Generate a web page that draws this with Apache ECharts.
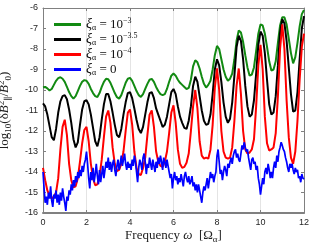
<!DOCTYPE html>
<html><head><meta charset="utf-8">
<script src="https://cdn.jsdelivr.net/npm/echarts@6/dist/echarts.min.js"></script>
<style>html,body{margin:0;padding:0;background:#fff}#c{width:332px;height:244px}</style>
</head><body><div id="c"></div>
<script>
// frequency grids (omega in units of Omega_alpha)
const freq = [0,0.1,0.2,0.3,0.4,0.5,0.6,0.7,0.8,0.9,
1,1.1,1.2,1.3,1.4,1.5,1.6,1.7,1.8,1.9,
2,2.1,2.2,2.3,2.4,2.5,2.6,2.7,2.8,2.9,
3,3.1,3.2,3.3,3.4,3.5,3.6,3.7,3.8,3.9,
4,4.1,4.2,4.3,4.4,4.5,4.6,4.7,4.8,4.9,
5,5.1,5.2,5.3,5.4,5.5,5.6,5.7,5.8,5.9,
6,6.1,6.2,6.3,6.4,6.5,6.6,6.7,6.8,6.9,
7,7.1,7.2,7.3,7.4,7.5,7.6,7.7,7.8,7.9,
8,8.1,8.2,8.3,8.4,8.5,8.6,8.7,8.8,8.9,
9,9.1,9.2,9.3,9.4,9.5,9.6,9.7,9.8,9.9,
10,10.1,10.2,10.3,10.4,10.5,10.6,10.7,10.8,10.9,
11,11.1,11.2,11.3,11.4,11.5,11.6,11.7,11.8,11.9,
12];
const freqFine = [0,0.05,0.1,0.15,0.2,0.25,0.3,0.35,0.4,0.45,0.5,0.55,0.6,0.65,0.7,0.75,0.8,0.85,0.9,0.95,
1,1.05,1.1,1.15,1.2,1.25,1.3,1.35,1.4,1.45,1.5,1.55,1.6,1.65,1.7,1.75,1.8,1.85,1.9,1.95,
2,2.05,2.1,2.15,2.2,2.25,2.3,2.35,2.4,2.45,2.5,2.55,2.6,2.65,2.7,2.75,2.8,2.85,2.9,2.95,
3,3.05,3.1,3.15,3.2,3.25,3.3,3.35,3.4,3.45,3.5,3.55,3.6,3.65,3.7,3.75,3.8,3.85,3.9,3.95,
4,4.05,4.1,4.15,4.2,4.25,4.3,4.35,4.4,4.45,4.5,4.55,4.6,4.65,4.7,4.75,4.8,4.85,4.9,4.95,
5,5.05,5.1,5.15,5.2,5.25,5.3,5.35,5.4,5.45,5.5,5.55,5.6,5.65,5.7,5.75,5.8,5.85,5.9,5.95,
6,6.05,6.1,6.15,6.2,6.25,6.3,6.35,6.4,6.45,6.5,6.55,6.6,6.65,6.7,6.75,6.8,6.85,6.9,6.95,
7,7.05,7.1,7.15,7.2,7.25,7.3,7.35,7.4,7.45,7.5,7.55,7.6,7.65,7.7,7.75,7.8,7.85,7.9,7.95,
8,8.05,8.1,8.15,8.2,8.25,8.3,8.35,8.4,8.45,8.5,8.55,8.6,8.65,8.7,8.75,8.8,8.85,8.9,8.95,
9,9.05,9.1,9.15,9.2,9.25,9.3,9.35,9.4,9.45,9.5,9.55,9.6,9.65,9.7,9.75,9.8,9.85,9.9,9.95,
10,10.05,10.1,10.15,10.2,10.25,10.3,10.35,10.4,10.45,10.5,10.55,10.6,10.65,10.7,10.75,10.8,10.85,10.9,10.95,
11,11.05,11.1,11.15,11.2,11.25,11.3,11.35,11.4,11.45,11.5,11.55,11.6,11.65,11.7,11.75,11.8,11.85,11.9,11.95,
12];

// xi = 1e-3 (green)
const green = [-9.87,-9.85,-9.92,-10.02,-9.95,-9.75,-9.55,-9.42,-9.38,-9.45,
-9.6,-9.85,-10.1,-10.3,-10.42,-10.3,-10.05,-9.8,-9.6,-9.52,
-9.55,-9.7,-9.95,-10.15,-10.3,-10.34,-10.15,-9.85,-9.6,-9.45,
-9.47,-9.65,-9.9,-10.15,-10.35,-10.42,-10.25,-9.95,-9.65,-9.45,
-9.41,-9.55,-9.8,-10.05,-10.25,-10.34,-10.2,-9.95,-9.7,-9.5,
-9.46,-9.6,-9.85,-10.05,-10.2,-10.25,-10.2,-9.95,-9.6,-9.3,
-9.2,-9.3,-9.5,-9.65,-9.75,-9.85,-9.95,-9.9,-9.5,-8.85,
-8.55,-8.65,-8.95,-9.35,-9.7,-9.88,-9.75,-9.55,-9.0,-8.3,
-7.85,-8.0,-8.5,-9.0,-9.35,-9.55,-9.45,-9.2,-8.5,-7.6,
-7.1,-7.2,-7.65,-8.3,-8.9,-9.3,-9.25,-8.9,-8.1,-7.25,
-6.8,-6.85,-7.25,-7.9,-8.6,-9.05,-9.0,-8.6,-7.7,-6.85,
-6.45,-6.45,-6.8,-7.5,-8.2,-8.7,-8.4,-7.7,-6.9,-6.3,
-6.1];
// xi = 1e-3.5 (black)
const black = [-10.65,-10.8,-11.2,-11.75,-12.3,-12.45,-11.9,-11.1,-10.55,-10.3,
-10.25,-10.45,-10.95,-11.6,-12.4,-12.8,-12.55,-11.7,-10.95,-10.55,
-10.5,-10.7,-11.2,-11.85,-12.5,-12.75,-12.3,-11.45,-10.7,-10.2,
-10.2,-10.55,-11.1,-11.7,-12.2,-12.3,-11.9,-11.2,-10.6,-10.15,
-10.1,-10.4,-10.9,-11.45,-11.9,-12.1,-11.8,-11.2,-10.6,-10.15,
-10.1,-10.4,-10.9,-11.2,-11.5,-11.8,-11.7,-11.3,-10.7,-10.1,
-9.95,-10.2,-10.8,-11.3,-11.6,-11.85,-11.9,-11.5,-10.8,-9.8,
-9.35,-9.6,-10.3,-11.0,-11.5,-11.7,-11.65,-11.2,-10.2,-9.0,
-8.5,-8.8,-9.6,-10.6,-11.3,-11.6,-11.4,-10.6,-9.3,-7.9,
-7.35,-7.6,-8.5,-9.8,-10.8,-11.3,-11.2,-10.5,-9.2,-7.8,
-7.15,-7.35,-8.2,-9.5,-10.7,-11.2,-11.1,-10.3,-8.8,-7.2,
-6.55,-6.75,-7.6,-8.9,-10.2,-11.05,-11.0,-10.1,-8.5,-7.0,
-6.4];
// xi = 1e-4 (red)
const red = [-13.8,-14.4,-14.9,-15.15,-15.3,-15.2,-15.0,-14.3,-12.9,-11.8,
-11.45,-12.2,-13.6,-14.4,-14.75,-14.7,-14.3,-13.5,-12.6,-11.95,
-11.8,-12.5,-13.6,-14.3,-14.65,-14.6,-14.2,-13.4,-12.3,-11.3,
-11.0,-11.6,-12.8,-13.6,-13.95,-13.9,-13.6,-13.0,-12.0,-11.1,
-10.95,-11.7,-13.0,-13.8,-14.1,-14.15,-13.8,-13.3,-12.2,-11.2,
-11.0,-11.8,-13.0,-13.5,-13.7,-13.75,-13.5,-13.0,-12.1,-11.1,
-10.75,-11.6,-12.9,-13.6,-13.8,-13.75,-13.55,-13.1,-12.0,-10.8,
-10.0,-10.9,-12.5,-13.2,-13.35,-13.3,-13.35,-12.9,-11.7,-9.9,
-8.95,-10.0,-12.0,-13.0,-13.3,-13.35,-13.3,-12.8,-11.5,-9.8,
-8.95,-10.2,-12.0,-12.9,-13.1,-13.05,-12.9,-12.4,-10.8,-8.8,
-7.8,-9.0,-11.3,-12.6,-12.95,-12.9,-12.8,-12.1,-10.3,-8.0,
-6.8,-8.0,-10.5,-12.3,-13.3,-13.6,-13.0,-11.5,-9.5,-7.9,
-7.25];
// xi = 0 (blue)
const blue = [-14.0,-14.8,-15.5,-15.2,-15.6,-15.0,-15.3,-14.7,-15.4,-15.7,-15.1,-15.3,-14.9,-15.5,-15.1,-15.6,-15.0,-15.4,-14.8,-15.2,
-15.5,-15.9,-15.2,-15.4,-14.9,-15.1,-14.6,-14.9,-14.4,-14.7,-14.2,-14.5,-14.0,-14.3,-13.9,-14.2,-13.7,-14.0,-13.6,-13.4,
-13.0,-13.6,-14.3,-14.8,-14.0,-14.4,-13.8,-14.5,-14.1,-13.6,-14.2,-14.6,-13.9,-14.5,-14.1,-13.7,-14.3,-13.9,-13.5,-13.8,
-13.3,-13.9,-13.5,-14.0,-13.6,-13.4,-13.9,-14.2,-13.7,-13.4,-13.9,-13.6,-13.2,-13.7,-13.4,-13.1,-13.6,-13.9,-13.5,-13.8,
-13.6,-13.9,-13.4,-13.7,-13.2,-13.5,-14.0,-14.5,-13.8,-13.4,-13.6,-13.9,-13.3,-13.1,-13.5,-14.1,-13.6,-13.8,-13.3,-13.6,
-13.9,-13.4,-13.7,-14.0,-13.5,-13.8,-13.3,-13.6,-13.2,-13.5,-13.9,-13.3,-13.5,-13.8,-13.4,-13.7,-14.0,-14.3,-14.1,-14.8,
-14.3,-14.0,-14.4,-14.2,-14.6,-14.3,-14.5,-14.1,-14.4,-14.7,-14.2,-14.0,-14.3,-14.5,-14.2,-14.6,-14.45,-14.2,-14.7,-14.5,
-14.9,-14.6,-15.0,-14.6,-14.9,-15.2,-15.5,-15.0,-14.7,-14.9,-14.6,-14.3,-14.8,-14.4,-14.0,-14.3,-14.1,-14.5,-14.2,-14.0,
-13.2,-12.9,-13.5,-14.1,-13.9,-14.4,-14.0,-13.7,-13.9,-14.2,-13.6,-13.8,-13.5,-13.3,-13.6,-13.2,-13.0,-12.9,-13.3,-13.1,
-13.4,-13.5,-13.1,-12.7,-12.9,-12.55,-12.8,-13.0,-12.9,-13.3,-13.6,-13.9,-13.4,-13.3,-13.6,-13.5,-13.9,-13.7,-14.3,-14.6,
-15.1,-14.7,-14.3,-14.6,-14.0,-13.8,-14.1,-13.6,-13.9,-14.3,-14.0,-14.3,-13.8,-13.5,-13.8,-13.2,-13.5,-13.0,-12.8,-12.55,
-12.7,-12.9,-13.0,-13.3,-13.5,-13.8,-14.0,-13.6,-13.8,-13.6,-13.9,-14.1,-13.8,-14.0,-13.9,-14.3,-14.2,-14.5,-14.1,-14.3,
-14.35];

const xTicks = [0,2,4,6,8,10,12];
const yTicks = [-16,-15,-14,-13,-12,-11,-10,-9,-8,-7,-6];
const seriesNames = ['g','k','r','b'];
const legendLabels = {
  g:'{i|ξ}{s|α}{t| = 10}{p|−3}',
  k:'{i|ξ}{s|α}{t| = 10}{p|−3.5}',
  r:'{i|ξ}{s|α}{t| = 10}{p|−4}',
  b:'{i|ξ}{s|α}{t| = 0}'
};

const pairs = (xs, ys) => xs.map((x, i) => [x, ys[i]]);
const serif = "'Liberation Serif','DejaVu Serif',serif";
const sans = "'Liberation Sans',Arial,sans-serif";
const axisCol = '#808080';

const chart = echarts.init(document.getElementById('c'), null, {renderer:'canvas'});
const richText = {
  n:{fontFamily:serif,fontSize:13,color:'#222'},
  i:{fontFamily:serif,fontSize:13,fontStyle:'italic',color:'#222'},
  s:{fontFamily:serif,fontSize:9,color:'#222',verticalAlign:'bottom'},
  p:{fontFamily:serif,fontSize:9,color:'#222',verticalAlign:'top'}
};
chart.setOption({
  animation:false,
  backgroundColor:'#fff',
  grid:{left:43,right:28,top:8,bottom:31,containLabel:false,outerBoundsMode:'none'},
  xAxis:[{
    type:'value',min:xTicks[0],max:xTicks[xTicks.length-1],interval:2,position:'bottom',
    axisLine:{show:true,onZero:false,lineStyle:{color:axisCol,width:2}},
    axisTick:{show:true,inside:true,length:3,lineStyle:{color:axisCol}},
    axisLabel:{fontSize:9,color:'#262626',fontFamily:sans,margin:5},
    splitLine:{show:true,lineStyle:{color:'#e4e4e4',width:1}},
    name:'{n|Frequency }{i|ω}{n|  [Ω}{s|α}{n|]}',
    nameLocation:'middle',nameGap:15,nameMoveOverlap:false,
    nameTextStyle:{rich:richText,lineHeight:16}
  },{
    type:'value',min:0,max:12,interval:2,position:'top',
    axisLine:{show:true,onZero:false,lineStyle:{color:axisCol,width:1}},
    axisTick:{show:true,inside:true,length:3,lineStyle:{color:axisCol}},
    axisLabel:{show:false},splitLine:{show:false}
  }],
  yAxis:[{
    type:'value',min:yTicks[0],max:yTicks[yTicks.length-1],interval:1,position:'left',
    axisLine:{show:true,onZero:false,lineStyle:{color:axisCol,width:1}},
    axisTick:{show:true,inside:true,length:3,lineStyle:{color:axisCol}},
    axisLabel:{fontSize:9,color:'#262626',fontFamily:sans,margin:5},
    splitLine:{show:false},
    name:'{n|log}{s|10}{n|(δ}{i|B}{p|2}{s|∥}{n|/}{i|B}{p|2}{s|0}{n|)}',
    nameLocation:'middle',nameGap:30,nameRotate:90,nameMoveOverlap:false,
    nameTextStyle:{rich:richText,lineHeight:16}
  },{
    type:'value',min:-16,max:-6,interval:1,position:'right',
    axisLine:{show:true,onZero:false,lineStyle:{color:axisCol,width:1}},
    axisTick:{show:true,inside:true,length:3,lineStyle:{color:axisCol}},
    axisLabel:{show:false},splitLine:{show:false}
  }],
  legend:{
    orient:'vertical',left:49,top:12,itemWidth:27,itemHeight:3,itemGap:0,
    icon:'rect',data:seriesNames,
    formatter:name=>legendLabels[name],
    textStyle:{color:'#111',lineHeight:15,rich:{
      i:{fontFamily:serif,fontSize:14,fontStyle:'italic',color:'#111'},
      t:{fontFamily:serif,fontSize:13,color:'#111',lineHeight:15},
      s:{fontFamily:serif,fontSize:8,color:'#111',verticalAlign:'bottom'},
      p:{fontFamily:serif,fontSize:8,color:'#111',verticalAlign:'top'}
    }}
  },
  series:[
    {name:'g',type:'line',data:pairs(freq,green),showSymbol:false,symbol:'none',color:'#128a12',lineStyle:{width:2,color:'#128a12'}},
    {name:'k',type:'line',data:pairs(freq,black),showSymbol:false,symbol:'none',color:'#000',lineStyle:{width:2,color:'#000'}},
    {name:'r',type:'line',data:pairs(freq,red),showSymbol:false,symbol:'none',color:'#ff0000',lineStyle:{width:2,color:'#ff0000'}},
    {name:'b',type:'line',data:pairs(freqFine,blue),showSymbol:false,symbol:'none',color:'#0000ff',lineStyle:{width:1.7,color:'#0000ff'}}
  ]
});
</script></body></html>
